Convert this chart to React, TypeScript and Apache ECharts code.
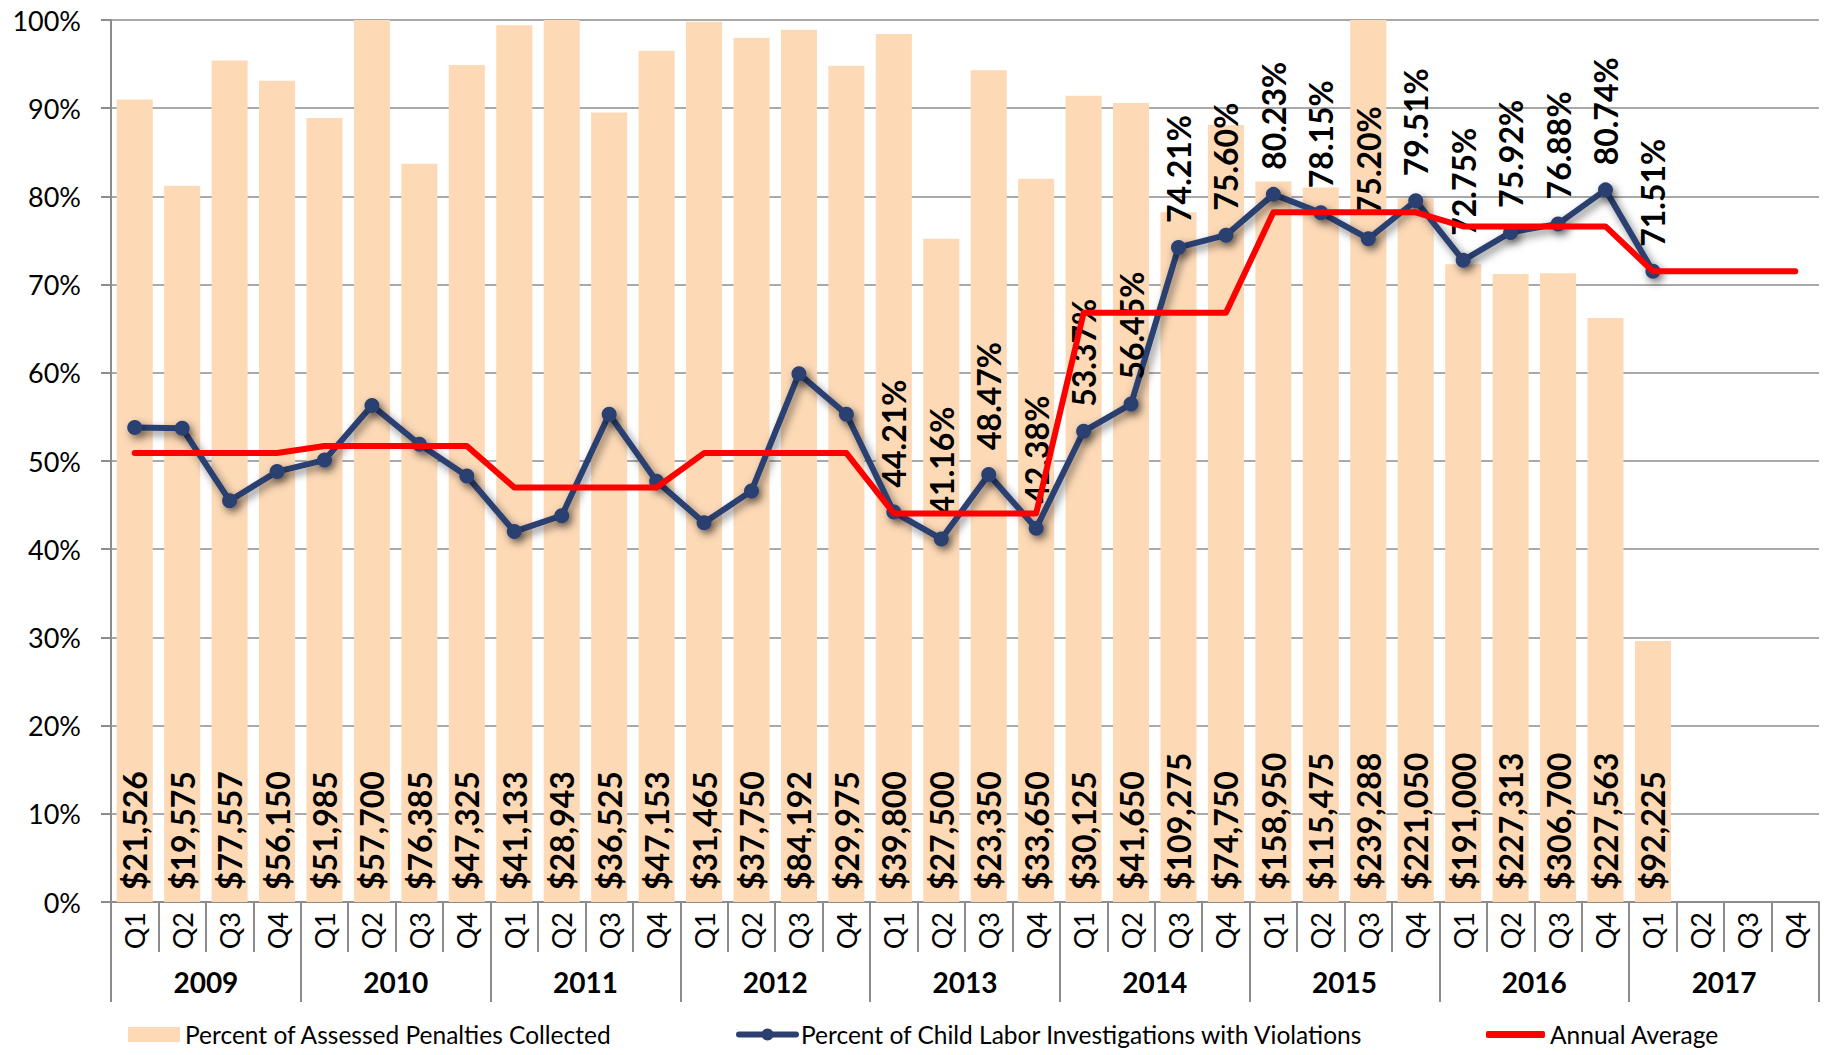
import React, { useEffect, useRef } from 'react';
import * as echarts from 'echarts';

const years = ['2009', '2010', '2011', '2012', '2013', '2014', '2015', '2016', '2017'];
const quarters = ['Q1', 'Q2', 'Q3', 'Q4'];
const categories = years.flatMap((y) => quarters.map((q) => `${y} ${q}`));

// Percent of Assessed Penalties Collected (bars)
const penaltiesCollected = [
  91.0, 81.2, 95.4, 93.1,
  88.9, 100, 83.7, 94.9,
  99.4, 100, 89.5, 96.5,
  99.8, 98.0, 98.9, 94.8,
  98.4, 75.2, 94.3, 82.0,
  91.4, 90.6, 78.2, 88.1,
  81.7, 81.0, 100, 79.8,
  72.3, 71.2, 71.3, 66.2,
  29.6, null, null, null,
];

// Dollar amounts collected (bar labels)
const amountsCollected = [
  '$21,526', '$19,575', '$77,557', '$56,150',
  '$51,985', '$57,700', '$76,385', '$47,325',
  '$41,133', '$28,943', '$36,525', '$47,153',
  '$31,465', '$37,750', '$84,192', '$29,975',
  '$39,800', '$27,500', '$23,350', '$33,650',
  '$30,125', '$41,650', '$109,275', '$74,750',
  '$158,950', '$115,475', '$239,288', '$221,050',
  '$191,000', '$227,313', '$306,700', '$227,563',
  '$92,225', null, null, null,
];

// Percent of Child Labor Investigations with Violations (line)
const violationsPct = [
  53.8, 53.7, 45.5, 48.8,
  50.1, 56.3, 51.9, 48.3,
  42.0, 43.8, 55.3, 47.7,
  43.0, 46.6, 59.9, 55.3,
  44.21, 41.16, 48.47, 42.38,
  53.37, 56.45, 74.21, 75.6,
  80.23, 78.15, 75.2, 79.51,
  72.75, 75.92, 76.88, 80.74,
  71.51, null, null, null,
];
const firstLabeledIndex = 16;

// Annual average (one value per year, drawn across that year's quarters)
const annualAverage = [50.9, 51.7, 47.0, 50.9, 44.06, 66.8, 78.2, 76.6, 71.5];

const FONT = 'Lato, "Noto Sans", sans-serif';
const PEACH = '#FDD9B6';
const NAVY = '#2C3F6F';
const RED = '#FF0000';
const GRAY = '#8C8C8C';

const NAME_BAR = 'Percent of Assessed Penalties Collected';
const NAME_LINE = 'Percent of Child Labor Investigations with Violations';
const NAME_AVG = 'Annual Average';

export default function App() {
  const ref = useRef<HTMLDivElement>(null);

  useEffect(() => {
    if (!ref.current) return;
    const chart = echarts.init(ref.current, undefined, { renderer: 'svg' });

    const avgSeries = years.flatMap((_, yi) => quarters.map(() => annualAverage[yi]));

    const legendText = { fontFamily: FONT, fontSize: 24.5, color: '#000', lineHeight: 24 };

    chart.setOption({
      animation: false,
      backgroundColor: '#fff',
      textStyle: { fontFamily: FONT },
      grid: { left: 111, right: 5, top: 20, bottom: 153, containLabel: false },
      legend: [
        {
          data: [{ name: NAME_BAR, icon: 'rect' }],
          left: 126, top: 1020, itemWidth: 52, itemHeight: 15, padding: 2,
          textStyle: legendText, selectedMode: false,
        },
        {
          data: [NAME_LINE],
          left: 734, top: 1020, itemWidth: 57, itemHeight: 15, padding: 2,
          textStyle: legendText, selectedMode: false,
          lineStyle: { width: 6, cap: 'round' },
        },
        {
          data: [{ name: NAME_AVG, icon: 'roundRect' }],
          left: 1484, top: 1020, itemWidth: 59, itemHeight: 7, padding: 2,
          textStyle: legendText, selectedMode: false,
        },
      ],
      xAxis: [
        {
          type: 'category',
          data: categories,
          position: 'bottom',
          axisLine: { show: true, lineStyle: { color: GRAY, width: 2 } },
          axisTick: { show: true, interval: 0, length: 50, lineStyle: { color: GRAY, width: 2 } },
          axisLabel: {
            interval: 0,
            rotate: 90,
            margin: 10,
            fontSize: 27,
            fontFamily: FONT,
            color: '#000',
            formatter: (v: string) => v.split(' ')[1],
          },
          splitLine: { show: false },
        },
        {
          type: 'category',
          data: years,
          position: 'bottom',
          axisLine: { show: false },
          axisTick: { show: true, interval: 0, length: 100, lineStyle: { color: GRAY, width: 2 } },
          axisLabel: {
            interval: 0,
            margin: 66,
            fontSize: 28,
            fontWeight: 'bold',
            fontFamily: FONT,
            color: '#000',
          },
          splitLine: { show: false },
        },
      ],
      yAxis: {
        type: 'value',
        min: 0,
        max: 100,
        interval: 10,
        axisLine: { show: true, lineStyle: { color: GRAY, width: 2 } },
        axisTick: { show: true, length: 10, lineStyle: { color: GRAY, width: 2 } },
        axisLabel: {
          formatter: '{value}%',
          margin: 30,
          fontSize: 27,
          fontFamily: FONT,
          color: '#000',
        },
        splitLine: { show: true, lineStyle: { color: GRAY, width: 1.5 } },
      },
      series: [
        {
          name: NAME_BAR,
          type: 'bar',
          xAxisIndex: 0,
          data: penaltiesCollected,
          barCategoryGap: '24%',
          itemStyle: { color: PEACH },
          label: {
            show: true,
            position: 'insideBottom',
            rotate: 90,
            align: 'left',
            verticalAlign: 'middle',
            distance: 12,
            fontSize: 32,
            fontWeight: 'bold',
            fontFamily: FONT,
            color: '#000',
            formatter: (p: any) => amountsCollected[p.dataIndex] ?? '',
          },
          z: 1,
        },
        {
          name: NAME_LINE,
          type: 'line',
          xAxisIndex: 0,
          data: violationsPct.map((v, i) =>
            i >= firstLabeledIndex && v != null ? { value: v, label: { show: true } } : v
          ),
          symbol: 'circle',
          symbolSize: 15,
          connectNulls: false,
          lineStyle: {
            color: NAVY,
            width: 6,
            shadowColor: 'rgba(0,0,0,0.5)',
            shadowBlur: 8,
            shadowOffsetX: 3,
            shadowOffsetY: 4,
          },
          itemStyle: {
            color: NAVY,
            shadowColor: 'rgba(0,0,0,0.5)',
            shadowBlur: 8,
            shadowOffsetX: 3,
            shadowOffsetY: 4,
          },
          label: {
            show: false,
            position: 'top',
            rotate: 90,
            align: 'left',
            verticalAlign: 'middle',
            distance: 17,
            fontSize: 32,
            fontWeight: 'bold',
            fontFamily: FONT,
            color: '#000',
            formatter: (p: any) => `${Number(p.value).toFixed(2)}%`,
          },
          z: 3,
        },
        {
          name: NAME_AVG,
          type: 'line',
          xAxisIndex: 0,
          data: avgSeries,
          symbol: 'none',
          lineStyle: { color: RED, width: 6, cap: 'round', join: 'round' },
          itemStyle: { color: RED },
          z: 4,
        },
      ],
    });

    return () => chart.dispose();
  }, []);

  return (
    <div
      ref={ref}
      style={{ position: 'fixed', left: 0, top: 0, width: 1824, height: 1055, background: '#fff' }}
    />
  );
}
